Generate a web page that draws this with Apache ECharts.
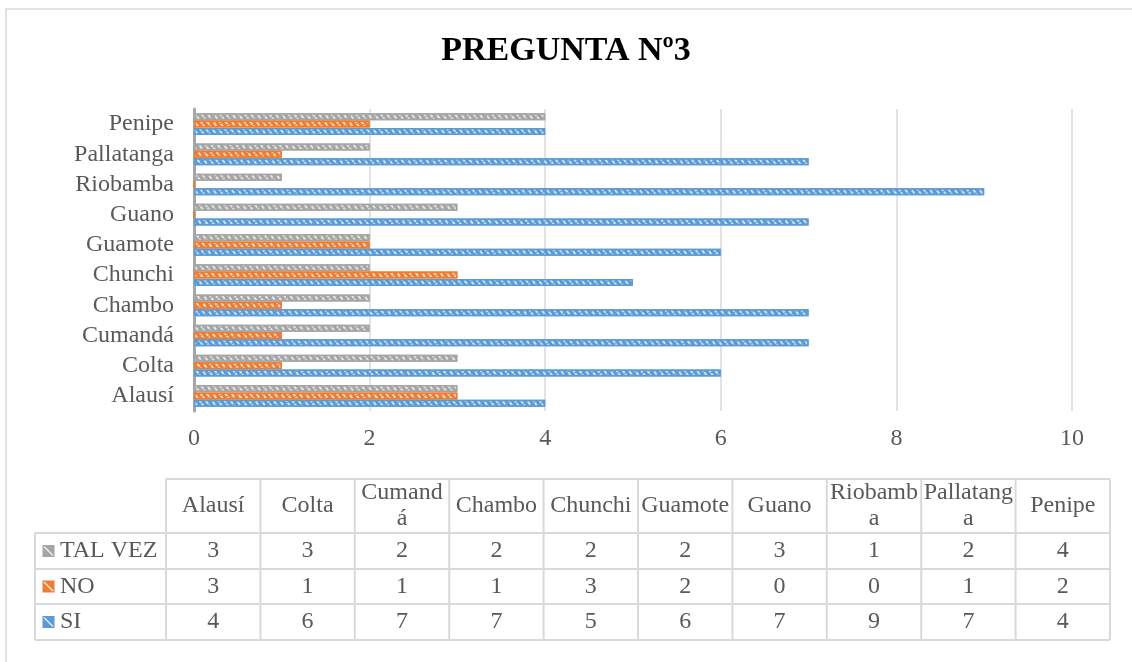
<!DOCTYPE html>
<html><head><meta charset="utf-8">
<script src="https://cdn.jsdelivr.net/npm/echarts@6/dist/echarts.min.js"></script>
<style>html,body{margin:0;padding:0;background:#fff}#c{width:1132px;height:662px}</style>
</head><body><div id="c"></div>
<script>
const titleText = 'PREGUNTA Nº3';
const categories = ['Alausí','Colta','Cumandá','Chambo','Chunchi','Guamote','Guano','Riobamba','Pallatanga','Penipe'];
const seriesNames = ['TAL VEZ','NO','SI'];
const talVez = [3,3,2,2,2,2,3,1,2,4];
const no = [3,1,1,1,3,2,0,0,1,2];
const si = [4,6,7,7,5,6,7,9,7,4];
const xTicks = [0,2,4,6,8,10];
const colors = ['#A5A5A5','#ED7D31','#5B9BD5'];

const seriesData = [talVez, no, si];
const FONT = 'Liberation Serif, Times New Roman, serif';
const TXT = '#595959';

const chart = echarts.init(document.getElementById('c'));

const decal = {
  symbol: 'rect', symbolSize: 1, color: 'rgba(255,255,255,0.7)',
  dashArrayX: [2, 3], dashArrayY: [4, 1], rotation: -Math.PI / 5
};

// table geometry
const tLeft = 35, labelRight = 166, colW = 94.4;
const headTop = 479, headBot = 533, rowYs = [533, 569, 604, 640];
const tRight = labelRight + colW * categories.length;
const lineCol = '#D9D9D9';
const g = [];
// outer chart border
g.push({type:'rect', shape:{x:6, y:9, width:1140, height:670}, style:{fill:'none', stroke:lineCol, lineWidth:1.5}, silent:true});
// horizontal lines
g.push({type:'line', shape:{x1:labelRight, y1:headTop, x2:tRight, y2:headTop}, style:{stroke:lineCol, lineWidth:2}});
rowYs.forEach(y => g.push({type:'line', shape:{x1:tLeft, y1:y, x2:tRight, y2:y}, style:{stroke:lineCol, lineWidth:2}}));
// vertical lines
g.push({type:'line', shape:{x1:tLeft, y1:headBot, x2:tLeft, y2:rowYs[3]}, style:{stroke:lineCol, lineWidth:2}});
for (let i = 0; i <= categories.length; i++) {
  const x = labelRight + colW * i;
  g.push({type:'line', shape:{x1:x, y1:headTop, x2:x, y2:rowYs[3]}, style:{stroke:lineCol, lineWidth:2}});
}
// header texts
categories.forEach((c, i) => {
  g.push({type:'text', x: labelRight + colW * (i + 0.5), y: (headTop + headBot) / 2,
    style:{text:c, font:'24px ' + FONT, fill:TXT, align:'center', verticalAlign:'middle',
      width:91, overflow:'breakAll', lineHeight:26}});
});
// rows
seriesNames.forEach((name, r) => {
  const yc = (rowYs[r] + rowYs[r + 1]) / 2;
  g.push({type:'rect', shape:{x:42, y:yc - 6.5, width:13, height:13}, style:{fill:colors[r], stroke:'#fff', lineWidth:1}});
  g.push({type:'line', shape:{x1:44, y1:yc - 4.5, x2:53, y2:yc + 4.5}, style:{stroke:'rgba(255,255,255,0.8)', lineWidth:1.5}});
  g.push({type:'text', x: 60, y: yc, style:{text:name, font:'24px ' + FONT, fill:TXT, align:'left', verticalAlign:'middle'}});
  seriesData[r].forEach((v, i) => {
    g.push({type:'text', x: labelRight + colW * (i + 0.5), y: yc,
      style:{text:String(v), font:'24px ' + FONT, fill:TXT, align:'center', verticalAlign:'middle'}});
  });
});

const option = {
  animation: false,
  backgroundColor: '#fff',
  title: {
    text: titleText, left: 'center', top: 29,
    textStyle: {fontFamily: FONT, fontWeight: 'bold', fontSize: 34, color: '#000'}
  },
  grid: {left: 194, right: 60, top: 109, height: 302, containLabel: false},
  xAxis: {
    type: 'value', min: xTicks[0], max: xTicks[xTicks.length - 1], interval: xTicks[1] - xTicks[0],
    axisLine: {show: false}, axisTick: {show: false},
    splitLine: {show: true, lineStyle: {color: '#D9D9D9', width: 1.5}},
    axisLabel: {fontFamily: FONT, fontSize: 24, color: TXT, margin: 16}
  },
  yAxis: {
    type: 'category', data: categories,
    axisLine: {show: true, lineStyle: {color: '#A6A6A6', width: 3}},
    axisTick: {show: false},
    axisLabel: {fontFamily: FONT, fontSize: 24, color: TXT, margin: 20, interval: 0}
  },
  series: seriesNames.map((n, i) => ({
    name: n, type: 'bar', data: seriesData[i], barWidth: 7, barGap: '5%',
    itemStyle: {color: colors[i], borderColor: colors[i], borderWidth: 1.5, decal: decal}
  })),
  graphic: g
};
chart.setOption(option);
</script></body></html>
